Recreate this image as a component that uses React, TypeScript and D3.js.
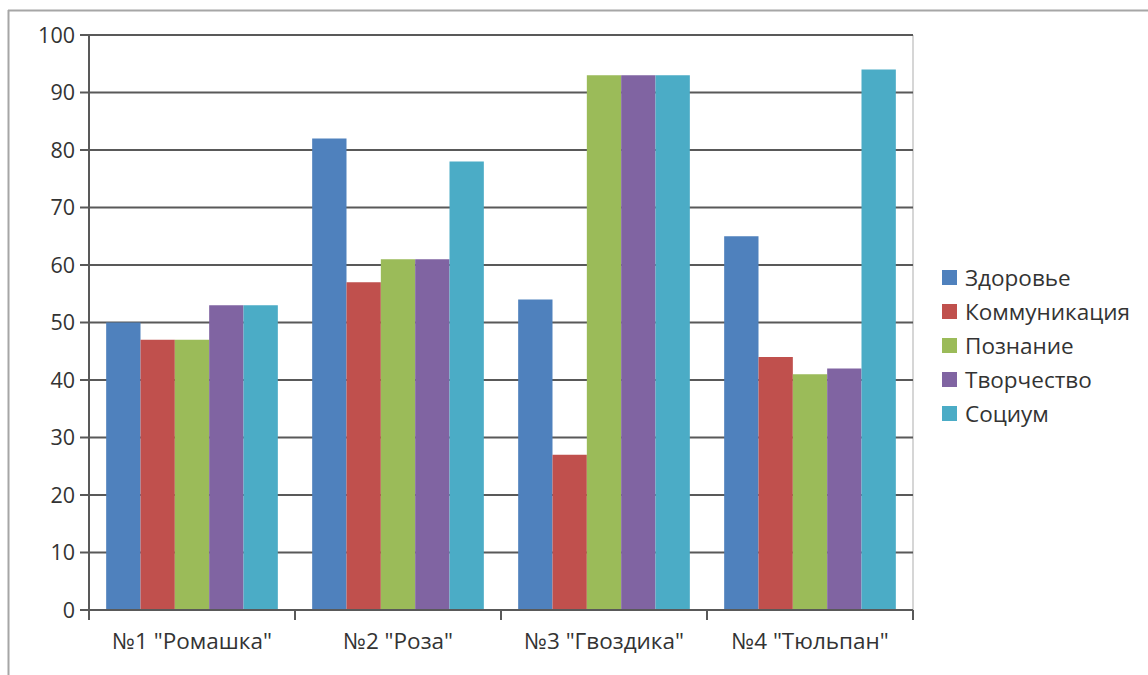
import React from "react";
import * as d3 from "d3";

const categories = ['№1 "Ромашка"', '№2 "Роза"', '№3 "Гвоздика"', '№4 "Тюльпан"'];
const seriesNames = ["Здоровье", "Коммуникация", "Познание", "Творчество", "Социум"];
const seriesColors = ["#4F81BD", "#C0504D", "#9BBB59", "#8064A2", "#4BACC6"];
const health = [50, 82, 54, 65];
const communication = [47, 57, 27, 44];
const cognition = [47, 61, 93, 41];
const creativity = [53, 61, 93, 42];
const society = [53, 78, 93, 94];
const seriesValues = [health, communication, cognition, creativity, society];
const yTicks = [0, 10, 20, 30, 40, 50, 60, 70, 80, 90, 100];

export default function App() {
  const W = 1148, H = 675;
  const left = 89, right = 913, top = 35, bottom = 610;
  const x0 = d3.scaleBand<string>().domain(categories).range([left, right]).paddingInner(0).paddingOuter(0);
  const inner = x0.bandwidth() / (seriesNames.length + 1);
  const x1 = d3.scaleBand<number>().domain(d3.range(seriesNames.length)).range([inner / 2, x0.bandwidth() - inner / 2]);
  const y = d3.scaleLinear().domain([0, 100]).range([bottom, top]);
  const font = "'Open Sans', 'DejaVu Sans', sans-serif";
  const boundaries = [...categories.map((c) => x0(c)!), right];
  return (
    <svg width={W} height={H} style={{ position: "absolute", left: 0, top: 0, background: "#fff" }}>
      <rect x={0} y={0} width={W} height={H} fill="#fff" />
      <line x1={8.5} y1={10} x2={8.5} y2={H} stroke="#a6a6a6" strokeWidth={2} />
      <line x1={8} y1={10.5} x2={W} y2={10.5} stroke="#a6a6a6" strokeWidth={2} />
      <line x1={right} y1={top} x2={right} y2={bottom} stroke="#c8c8c8" strokeWidth={1.5} />
      {yTicks.map((t) => (
        <g key={t}>
          {t > 0 && <line x1={left} x2={right} y1={y(t)} y2={y(t)} stroke="#595959" strokeWidth={2} />}
          <line x1={80} x2={left} y1={y(t)} y2={y(t)} stroke="#595959" strokeWidth={2} />
          <text x={75} y={y(t)} dy="0.35em" textAnchor="end" fontFamily={font} fontSize={21.5} fill="#333">{t}</text>
        </g>
      ))}
      {categories.map((c, ci) => (
        <g key={c}>
          {seriesValues.map((vals, si) => (
            <rect key={si} x={x0(c)! + x1(si)!} width={x1.bandwidth()} y={y(vals[ci])} height={bottom - y(vals[ci])} fill={seriesColors[si]} />
          ))}
          <text x={x0(c)! + x0.bandwidth() / 2} y={641} dy="0.35em" textAnchor="middle" fontFamily={font} fontSize={22.5} fill="#333">{c}</text>
        </g>
      ))}
      <line x1={left} x2={left} y1={top - 1} y2={bottom + 10} stroke="#595959" strokeWidth={2} />
      <line x1={left - 9} x2={right} y1={bottom} y2={bottom} stroke="#595959" strokeWidth={2} />
      {boundaries.map((b, i) => (
        <line key={i} x1={b} x2={b} y1={bottom} y2={bottom + 10} stroke="#595959" strokeWidth={2} />
      ))}
      {seriesNames.map((n, i) => (
        <g key={n} transform={`translate(942, ${278 + i * 34})`}>
          <rect x={0} y={-8} width={15} height={15} fill={seriesColors[i]} />
          <text x={23} y={0} dy="0.35em" fontFamily={font} fontSize={22.5} fill="#333">{n}</text>
        </g>
      ))}
    </svg>
  );
}
